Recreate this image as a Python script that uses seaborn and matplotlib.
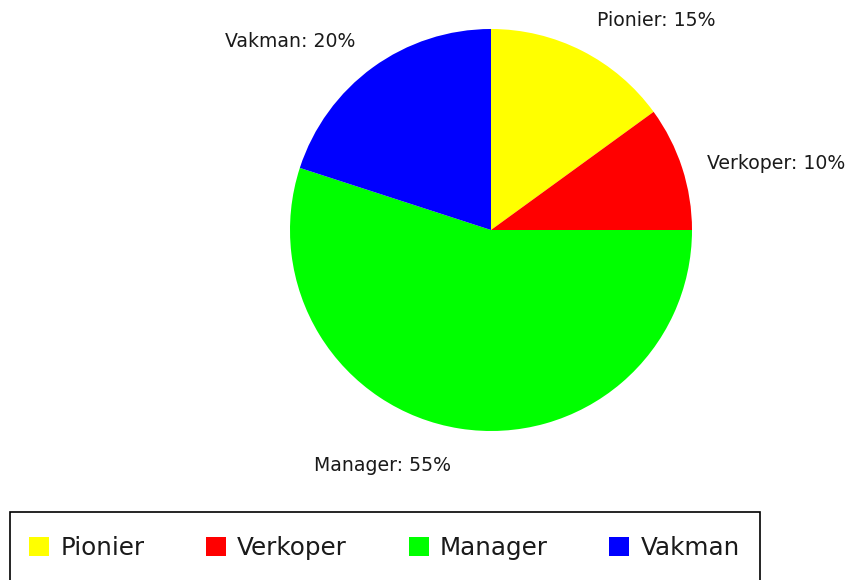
# Pie chart of profile types (Pionier / Verkoper / Manager / Vakman)
import seaborn as sns
import matplotlib.pyplot as plt
from matplotlib.patches import Patch, Rectangle

sns.set_style('white')
plt.rcParams['font.family'] = ['DejaVu Sans']

# data
categories = ['Pionier', 'Verkoper', 'Manager', 'Vakman']
shares = [15, 10, 55, 20]
colors = ['#ffff00', '#ff0000', '#00ff00', '#0000ff']

# where each slice label sits (pie radius = 1)
label_pos = [(0.82, 1.04), (1.42, 0.33), (-0.54, -1.17), (-1.0, 0.94)]

W, H = 852, 580
fig = plt.figure(figsize=(W / 100, H / 100), dpi=100)
cx, cy, r = 491, 230, 201
ax = fig.add_axes([(cx - r) / W, (H - cy - r) / H, 2 * r / W, 2 * r / H])

wedges, _ = ax.pie(shares, colors=colors, startangle=90, counterclock=False,
                   radius=1, wedgeprops=dict(linewidth=0))
ax.set_xlim(-1, 1)
ax.set_ylim(-1, 1)
ax.set_aspect('equal')
ax.axis('off')

for cat, val, (x, y) in zip(categories, shares, label_pos):
    ax.text(x, y, f'{cat}: {val}%', ha='center', va='center',
            fontsize=13.6, color='#1a1a1a', clip_on=False)

# legend, frame drawn separately (bottom edge runs off the image)
handles = [Patch(facecolor=c, edgecolor='none') for c in colors]
leg = fig.legend(handles, categories, ncol=4, loc='center left',
                 bbox_to_anchor=(10 / W, 1 - 548 / H), borderaxespad=0,
                 fontsize=17.7, handlelength=0.82, handleheight=0.82,
                 handletextpad=0.45, columnspacing=2.5, borderpad=0.78,
                 frameon=False)
for t in leg.get_texts():
    t.set_color('#1a1a1a')
fig.add_artist(Rectangle((10 / W, 1 - 592 / H), 750 / W, 80 / H,
                         transform=fig.transFigure, fill=False,
                         edgecolor='black', linewidth=1.2))

fig.savefig('out.png', dpi=100)
